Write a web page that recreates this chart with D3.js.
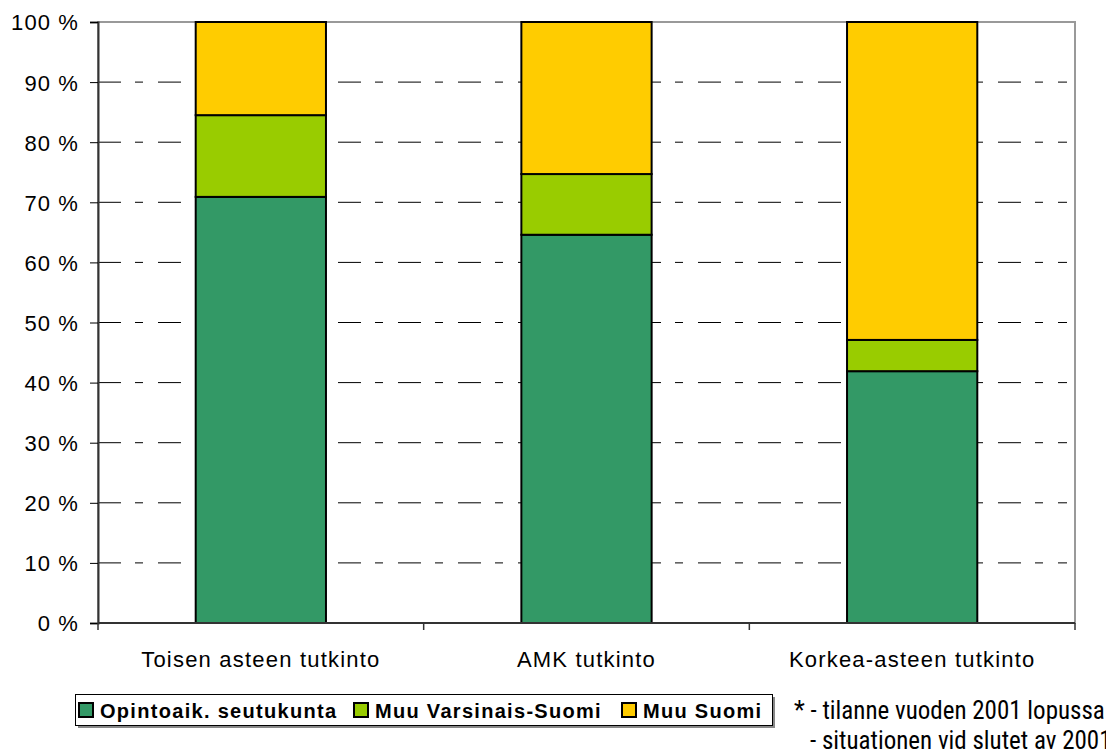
<!DOCTYPE html>
<html><head><meta charset="utf-8">
<script src="https://cdn.jsdelivr.net/npm/d3@7"></script>
<style>body{margin:0;background:#fff}</style>
</head><body>
<svg id="c" width="1106" height="756"></svg>
<script>
const categories = ["Toisen asteen tutkinto", "AMK tutkinto", "Korkea-asteen tutkinto"];
const seriesNames = ["Opintoaik. seutukunta", "Muu Varsinais-Suomi", "Muu Suomi"];
const seutukunta = [70.9, 64.6, 41.9];
const muuVS = [13.6, 10.1, 5.2];
const muuSuomi = [15.5, 25.3, 52.9];
const yTicks = [0,10,20,30,40,50,60,70,80,90,100];
const colors = ["#339966", "#99cc00", "#ffcc00"];
const footnote = ["* - tilanne vuoden 2001 lopussa", "- situationen vid slutet av 2001"];

const FONT = "'Liberation Sans', Arial, sans-serif";
const NARROW = "'Liberation Sans Narrow', 'Roboto Condensed', sans-serif";
const svg = d3.select("#c");
const L = 98, R = 1075, T = 22, B = 623;
const x = d3.scaleBand().domain(categories).range([L, R]).paddingInner(0.6).paddingOuter(0.3);
const xb = d3.scaleBand().domain(categories).range([L, R]);
const y = d3.scaleLinear().domain([0, 100]).range([B, T]);

// gridlines
svg.append("g").selectAll("line").data(yTicks.filter(d => d > 0 && d < 100)).join("line")
  .attr("x1", L).attr("x2", R - 8).attr("y1", d => y(d)).attr("y2", d => y(d))
  .attr("stroke", "#000").attr("stroke-width", 1).attr("stroke-dasharray", "23,14,8,15");
// plot border
svg.append("rect").attr("x", L).attr("y", T).attr("width", R - L).attr("height", B - T)
  .attr("fill", "none").attr("stroke", "#999").attr("stroke-width", 2);

const data = categories.map((c, i) => ({c, vals: [seutukunta[i], muuVS[i], muuSuomi[i]]}));
const stack = d3.stack().keys([0,1,2]).value((d, k) => d.vals[k]);
const stacked = stack(data);
stacked.forEach((s, k) => {
  svg.append("g").selectAll("rect").data(s).join("rect")
    .attr("x", (d, i) => x(categories[i])).attr("width", x.bandwidth())
    .attr("y", d => y(Math.min(d[1], 100))).attr("height", d => y(d[0]) - y(Math.min(d[1], 100)))
    .attr("fill", colors[k]).attr("stroke", "#000").attr("stroke-width", 2);
});

// axes
const ya = d3.axisLeft(y).tickValues(yTicks).tickSize(8).tickFormat(d => d + " %");
const gy = svg.append("g").attr("transform", `translate(${L},0)`).call(ya);
gy.select(".domain").attr("stroke", "#333").attr("stroke-width", 2);
gy.selectAll(".tick line").attr("stroke", "#000");
gy.selectAll("text").attr("font-family", FONT).attr("font-size", 22).attr("letter-spacing", 1.1)
  .attr("fill", "#000").attr("x", -19).attr("dy", "0.36em");

const gx = svg.append("g").attr("transform", `translate(0,${B})`);
gx.append("line").attr("x1", L).attr("x2", R).attr("y1", 0).attr("y2", 0).attr("stroke", "#333").attr("stroke-width", 2);
const bounds = [L].concat(categories.map(c => xb(c) + xb.bandwidth()));
gx.selectAll("line.t").data(bounds).join("line").attr("class", "t")
  .attr("x1", d => d).attr("x2", d => d).attr("y1", 0).attr("y2", 7).attr("stroke", "#333").attr("stroke-width", 1.5);
gx.selectAll("text").data(categories).join("text")
  .attr("x", d => xb(d) + xb.bandwidth() / 2).attr("y", 44).attr("text-anchor", "middle")
  .attr("font-family", FONT).attr("font-size", 22).attr("letter-spacing", 1.2).attr("fill", "#000").text(d => d);

// legend
const lg = svg.append("g");
lg.append("rect").attr("x", 78).attr("y", 697).attr("width", 697).attr("height", 31).attr("fill", "#888");
lg.append("rect").attr("x", 75.5).attr("y", 694.5).attr("width", 697).attr("height", 31).attr("fill", "#fff").attr("stroke", "#000").attr("stroke-width", 1);
const lx = [78, 353, 621];
seriesNames.forEach((n, i) => {
  lg.append("rect").attr("x", lx[i] + 1).attr("y", 703).attr("width", 14).attr("height", 14)
    .attr("fill", colors[i]).attr("stroke", "#000").attr("stroke-width", 2);
  lg.append("text").attr("x", lx[i] + 22).attr("y", 718).attr("font-family", FONT)
    .attr("font-weight", "bold").attr("font-size", 20).attr("letter-spacing", 1.3).attr("fill", "#000").text(n);
});

// footnote
svg.append("text").attr("x", 794).attr("y", 719).attr("font-family", NARROW)
  .attr("font-size", 25).attr("fill", "#000").text(footnote[0]);
svg.append("text").attr("x", 810).attr("y", 749).attr("font-family", NARROW)
  .attr("font-size", 25).attr("fill", "#000").text(footnote[1]);
</script>
</body></html>
